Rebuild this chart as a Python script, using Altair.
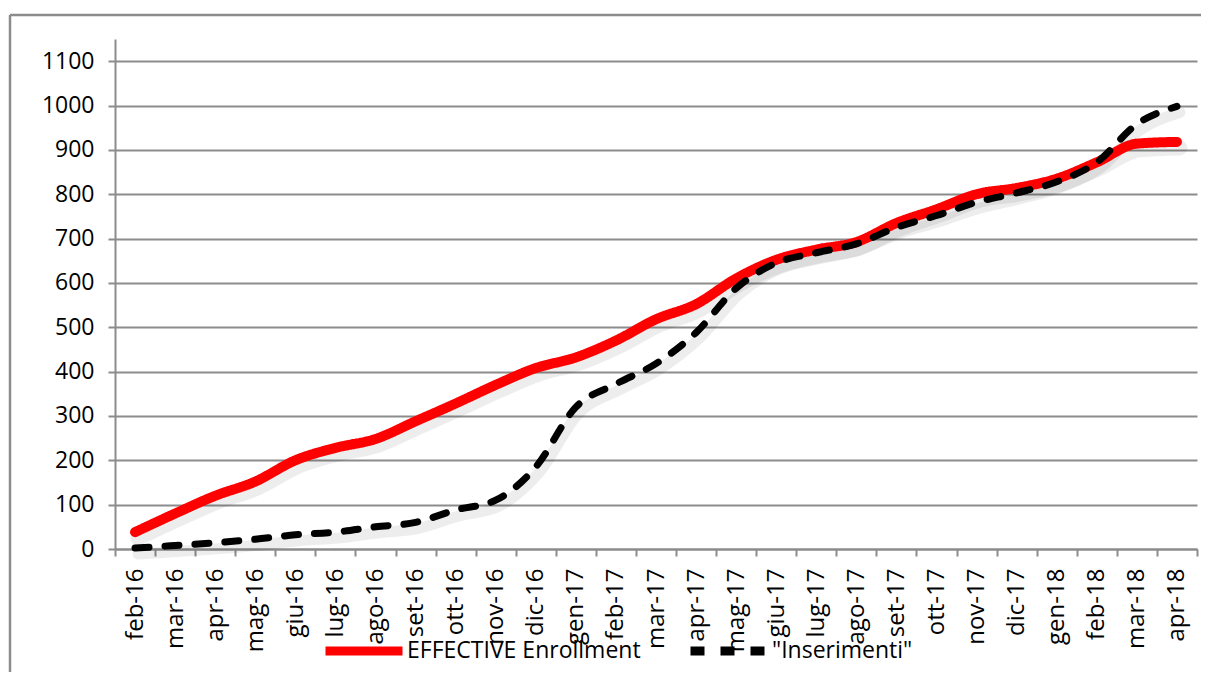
import altair as alt
import pandas as pd

months = ["feb-16", "mar-16", "apr-16", "mag-16", "giu-16", "lug-16", "ago-16",
          "set-16", "ott-16", "nov-16", "dic-16", "gen-17", "feb-17", "mar-17",
          "apr-17", "mag-17", "giu-17", "lug-17", "ago-17", "set-17", "ott-17",
          "nov-17", "dic-17", "gen-18", "feb-18", "mar-18", "apr-18"]

effective = [38, 80, 120, 152, 200, 228, 248, 288, 328, 370, 408, 432, 470, 518,
             552, 610, 652, 675, 692, 735, 766, 800, 814, 835, 872, 914, 918]

inserimenti = [2, 8, 14, 22, 32, 38, 50, 60, 88, 110, 185, 320, 372, 418,
               488, 588, 645, 668, 688, 725, 752, 782, 803, 828, 872, 958, 998]

series_names = ["EFFECTIVE Enrollment", '"Inserimenti"']
series_colors = ["#ff0000", "#000000"]
y_ticks = list(range(0, 1101, 100))

df = pd.DataFrame({
    "month": months * 2,
    "value": effective + inserimenti,
    "series": [series_names[0]] * len(months) + [series_names[1]] * len(months),
})

FONT = "Open Sans"
GRID = "#8c8c8c"

x = alt.X(
    "month:O", sort=months,
    scale=alt.Scale(type="band", paddingInner=0, paddingOuter=0),
    axis=alt.Axis(title=None, labelAngle=270, labelFont=FONT, labelFontSize=24,
                  labelColor="black", labelPadding=12, tickBand="extent",
                  tickSize=7, tickColor=GRID, tickWidth=2, domainColor=GRID,
                  domainWidth=2, grid=False),
)
y = alt.Y(
    "value:Q",
    scale=alt.Scale(domain=[0, 1150], nice=False),
    axis=alt.Axis(title=None, values=y_ticks, format="d", labelFont=FONT,
                  labelFontSize=23, labelColor="black", labelPadding=14,
                  tickSize=7, tickColor=GRID, tickWidth=2, domainColor=GRID,
                  domainWidth=2, gridColor=GRID, gridWidth=2),
)

color_scale = alt.Scale(domain=series_names, range=series_colors)
dash_scale = alt.Scale(domain=series_names, range=[[1, 0], [14, 16]])
width_scale = alt.Scale(domain=series_names, range=[10, 7])

shadow = alt.Chart(df).mark_line(
    interpolate="monotone", color="#000000", opacity=0.07, strokeCap="round",
    strokeJoin="round", xOffset=3, yOffset=6
).encode(
    x=x, y=y, detail="series:N",
    strokeWidth=alt.StrokeWidth("series:N", scale=alt.Scale(domain=series_names, range=[15, 11]), legend=None),
)

lines = alt.Chart(df).mark_line(
    interpolate="monotone", strokeCap="round", strokeJoin="round"
).encode(
    x=x, y=y,
    color=alt.Color("series:N", scale=color_scale, sort=series_names,
                    legend=alt.Legend(title=None, orient="none", legendX=206, legendY=569,
                                      direction="horizontal", columns=2,
                                      symbolType="stroke", symbolSize=5929,
                                      symbolStrokeWidth=9, labelFont=FONT,
                                      labelFontSize=23, labelColor="black",
                                      labelOffset=0, labelLimit=500,
                                      columnPadding=31, padding=0)),
    strokeDash=alt.StrokeDash("series:N", scale=dash_scale, sort=series_names),
    strokeWidth=alt.StrokeWidth("series:N", scale=width_scale, legend=None),
)

border_df = pd.DataFrame({"k": [0]})
border_left = alt.Chart(border_df).mark_rule(color=GRID, strokeWidth=2.5).encode(
    x=alt.value(-105), y=alt.value(-24), y2=alt.value(700))
border_top = alt.Chart(border_df).mark_rule(color=GRID, strokeWidth=2.5).encode(
    x=alt.value(-105), x2=alt.value(1200), y=alt.value(-24))

chart = alt.layer(border_left, border_top, shadow, lines).properties(
    width=1082, height=510,
    autosize=alt.AutoSizeParams(type="none"),
    padding={"left": 107, "top": 31, "right": 4, "bottom": 123},
).configure_view(stroke=None).resolve_scale(strokeWidth="independent")

chart.save("out.html", embed_options={"renderer": "svg", "actions": False})
